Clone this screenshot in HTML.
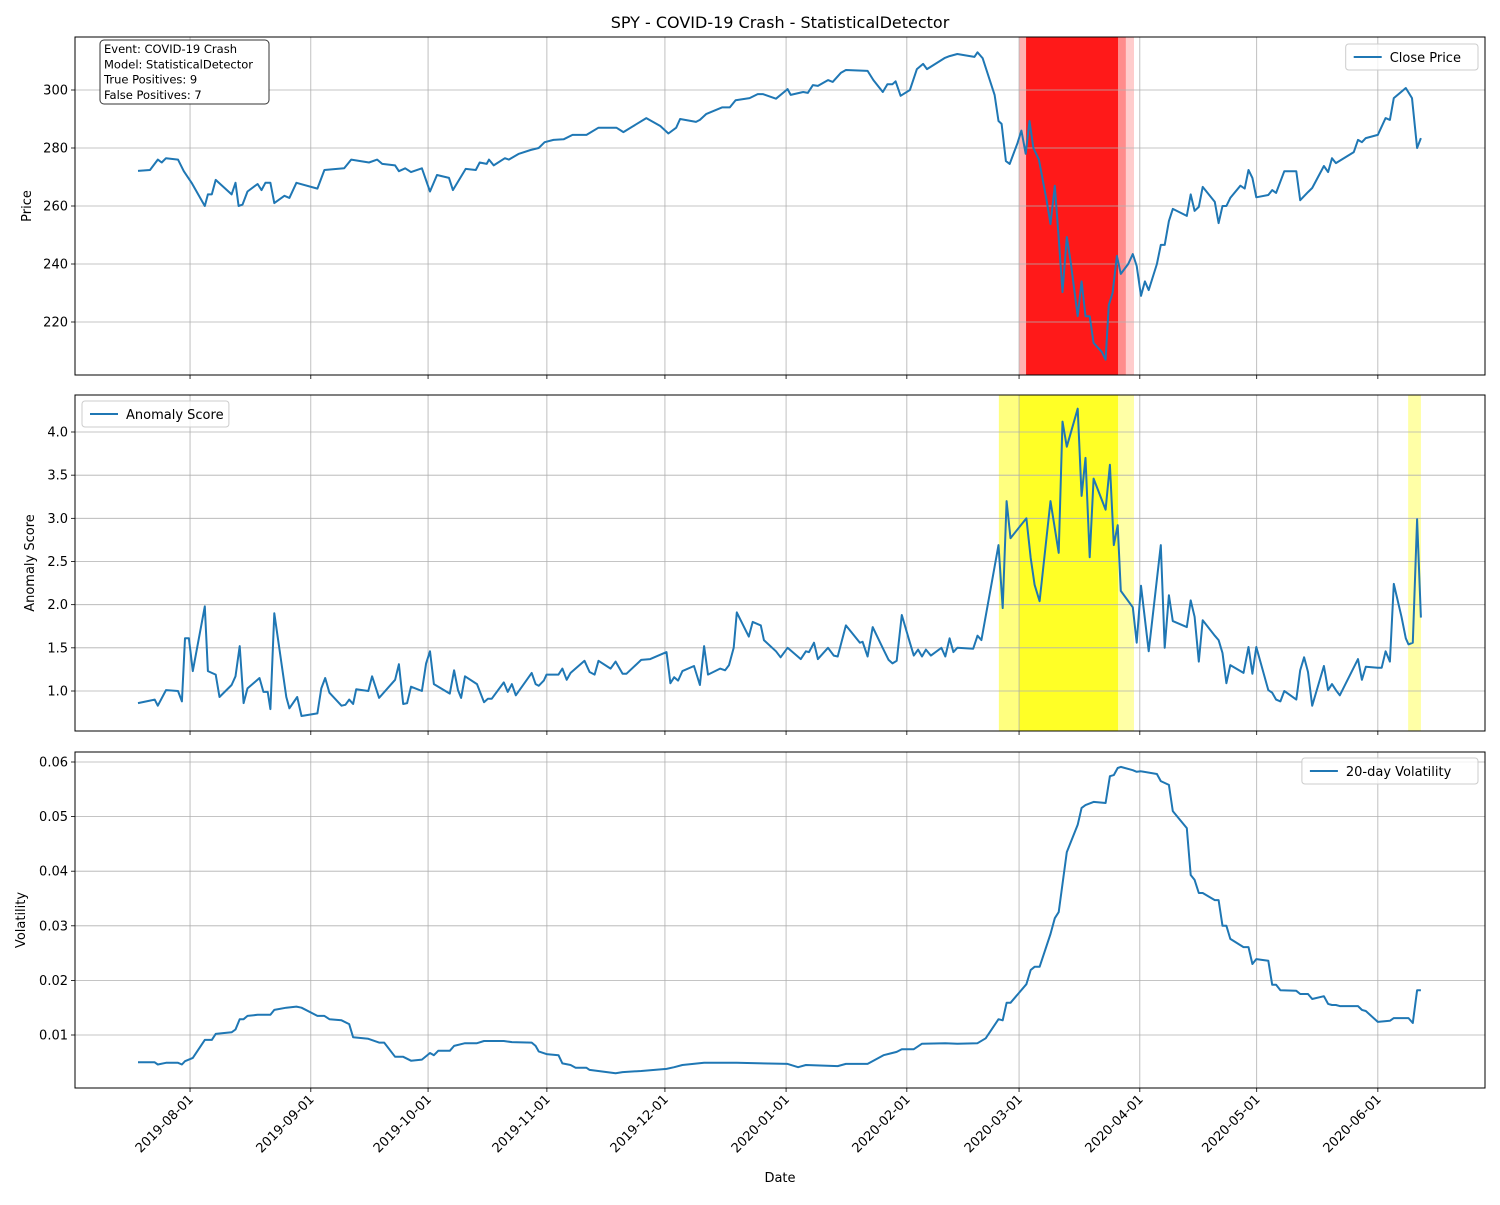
<!DOCTYPE html>
<html><head><meta charset="utf-8"><style>
body{margin:0;background:#fff;font-family:"Liberation Sans","DejaVu Sans",sans-serif}
svg text{font-family:"DejaVu Sans","Liberation Sans",sans-serif}
</style></head><body>
<svg id="chart" width="1500" height="1200" xmlns="http://www.w3.org/2000/svg">
<rect width="1500" height="1200" fill="#fff"/>
<text x="780" y="28" font-size="16" text-anchor="middle">SPY - COVID-19 Crash - StatisticalDetector</text>
</svg>
<script>
// days since 2019-07-18 (approx)
const priceDays=[0.4,3.5,5.5,6.5,7.6,10.7,12.2,14.2,17.6,18.4,19.4,20.4,24.5,25.5,26.3,27.3,28.6,31.2,32.2,33.2,34.5,35.5,38.1,39.4,41.2,46.6,48.4,53.5,55.3,59.9,62,63.3,66.6,67.6,69.2,70.7,73.5,75.6,77.4,80.5,81.5,84.8,87.4,88.4,90.2,90.8,92,94.9,95.9,98.5,101.5,103.6,105.1,107.4,110,112.3,115.9,119,123.6,125.4,131.3,134.9,137,139,140,144.1,145.1,146.7,150.8,152.8,154.3,157.9,160,161.3,164.7,167.7,168.5,171.7,172.9,174.2,175.5,178.1,179.3,181.4,182.7,188.3,189.8,192.2,193.4,194.7,195.5,196.8,199.2,201,202.6,203.6,208.1,209.4,211.4,215.8,216.6,217.9,221,222,222.8,223.9,224.9,226.9,227.9,229,230,231,232.4,234.4,235.4,236.5,237.5,238.5,239.6,240.6,242.4,243.4,244.4,245.5,246.5,248.6,249.6,250.4,251.4,252.5,253.5,255.4,256.6,257.6,258.7,259.7,260.7,262.8,263.8,264.8,265.9,266.9,270.5,271.5,272.5,273.6,274.6,277.7,278.7,279.7,280.7,281.7,284.3,285.4,286.4,287.4,288.4,291.5,292.5,293.5,295.6,298.7,299.7,301.7,302.8,305.8,306.9,307.9,308.9,313.5,314.6,315.6,316.6,319.7,321.7,322.8,323.8,326.9,328.5,329.8,330.8];
const priceValues=[272.1,272.4,276,275,276.5,276,272,268,260,264,264,269,264,268,260,260.5,265,267.6,265.5,268,268,261,263.5,262.8,268,266,272.4,273,276,275,276,274.5,274,272,273,271.7,273,265,270.7,269.7,265.5,272.8,272.4,275,274.5,276,274,276.5,276,278,279.3,280,282,282.8,283,284.5,284.5,287,287,285.5,290.3,287.6,285,287,290,289,289.7,291.7,294,294,296.5,297.2,298.6,298.6,297,300.3,298.3,299.3,299,301.7,301.4,303.4,302.8,305.9,306.9,306.6,303.4,299.3,302,302,303,298,300,307.2,309,307.2,311,311.7,312.4,311.4,313,311,298.3,289.3,288.3,275.5,274.5,281.7,286,278,289.3,280,276,262,253.8,267,249,230.3,249.3,240.7,222,234,222,222,212.8,209.7,207,225.9,230,242.8,236.6,240,243.4,239.3,229,234,231,240,246.6,246.6,254.8,259,256.6,264,258.3,259.7,266.6,261.4,254.1,260,260,262.8,267,266,272.4,269.7,263,263.8,265.5,264.5,272,272,262,264.8,266.2,273.8,271.7,276.5,274.8,278.6,282.8,282,283.4,284.5,290.3,289.7,297.2,300.7,297.2,280,283.4];
const scoreDays=[0.4,4.7,5.5,7.6,10.7,11.7,12.5,13.5,14.5,17.6,18.4,20.4,21.4,24.5,25.5,26.6,27.6,28.6,31.7,32.7,33.8,34.5,35.5,38.6,39.4,41.4,42.5,46.6,47.6,48.6,49.7,52.8,53.8,54.8,55.8,56.6,59.7,60.7,62.5,66.6,67.6,68.7,69.7,70.7,73.5,74.6,75.6,76.6,80.7,81.8,82.8,83.6,84.6,87.7,89.5,90.5,91.5,94.6,95.6,96.7,97.7,101.8,102.8,103.6,104.9,105.6,108.7,109.7,110.8,111.8,115.4,116.7,118,119,122.1,123.4,125.2,126.2,130,132.3,136.5,137.5,138.5,139.5,140.6,143.6,145.1,146.2,147.2,150.3,151.6,152.6,153.8,154.6,157.7,158.7,160.8,161.6,164.7,165.9,167.7,171.1,172.4,173.2,174.5,175.5,178.1,179.6,180.6,182.7,186.3,187,188.3,189.6,192.4,193.7,194.7,195.8,197.1,199.2,200.2,201.3,202.3,203.3,204.6,207.3,208.3,209.4,210.4,211.4,215.5,216.6,217.6,222,223.1,224.1,225.1,229.2,230.3,231.3,232.6,235.4,237.5,238.5,239.6,242.4,243.4,244.4,245.5,246.5,249.6,250.7,251.7,252.7,253.5,256.6,257.6,258.7,260.7,263.8,264.8,265.9,266.9,270.5,271.5,272.5,273.6,274.6,277.7,278.7,279.7,280.7,281.7,285.1,286.4,287.4,288.4,291.5,292.5,293.5,294.6,295.6,298.7,299.7,300.7,301.7,302.8,305.8,306.9,307.9,308.9,309.9,314.6,315.6,316.6,319.7,320.7,321.7,322.8,323.8,325.8,326.9,327.6,328.7,329.8,330.8];
const scoreValues=[0.86,0.9,0.83,1.01,1.0,0.88,1.61,1.61,1.23,1.98,1.23,1.19,0.93,1.07,1.17,1.52,0.86,1.03,1.15,0.99,0.99,0.79,1.9,0.93,0.8,0.93,0.71,0.74,1.03,1.15,0.98,0.83,0.84,0.9,0.85,1.02,1.0,1.17,0.92,1.13,1.31,0.85,0.86,1.05,1.0,1.32,1.46,1.08,0.97,1.24,1.01,0.92,1.17,1.08,0.87,0.91,0.91,1.1,0.99,1.08,0.95,1.21,1.08,1.06,1.12,1.19,1.19,1.26,1.13,1.21,1.35,1.22,1.19,1.35,1.26,1.34,1.2,1.2,1.36,1.37,1.45,1.09,1.16,1.12,1.23,1.29,1.07,1.52,1.19,1.26,1.24,1.3,1.5,1.91,1.63,1.8,1.76,1.59,1.46,1.39,1.5,1.37,1.46,1.45,1.56,1.37,1.5,1.41,1.4,1.76,1.56,1.57,1.4,1.74,1.48,1.36,1.32,1.35,1.88,1.56,1.41,1.48,1.4,1.48,1.41,1.5,1.4,1.61,1.45,1.5,1.49,1.64,1.59,2.69,1.96,3.2,2.77,3.0,2.54,2.23,2.04,3.2,2.6,4.12,3.83,4.27,3.26,3.7,2.55,3.46,3.1,3.62,2.69,2.92,2.16,1.97,1.56,2.22,1.46,2.69,1.5,2.11,1.81,1.74,2.05,1.86,1.34,1.82,1.64,1.59,1.44,1.09,1.3,1.21,1.51,1.2,1.51,1.01,0.98,0.9,0.88,1.0,0.9,1.24,1.39,1.22,0.83,1.29,1.01,1.08,1.01,0.95,1.37,1.13,1.28,1.27,1.27,1.46,1.34,2.24,1.86,1.61,1.54,1.56,2.99,1.85];
const volDays=[0.4,4.7,5.5,7.6,10.7,11.7,12.5,14.5,17.6,19.4,20.4,24.5,25.5,26.6,27.6,28.6,31.2,34.5,35.5,38.6,41.2,42.5,46.6,48.4,49.7,52.8,54.8,55.8,59.7,62.5,63.8,66.6,68.7,70.7,73.5,75.6,76.6,77.7,80.7,81.8,84.6,87.7,89.5,94.6,96.7,101.8,102.8,103.6,105.6,108.7,109.7,111.8,113.1,115.9,116.7,123.4,125.2,130,136.5,138.5,140.6,146.2,154.6,167.7,170.4,172.4,180.6,182.7,188.3,192.4,195.8,197.1,200.2,202.3,208.3,211.4,216.6,218.7,222,223.1,224.1,225.1,229.2,230.3,231.3,232.6,235.4,236.5,237.5,239.6,242.4,243.4,244.4,246.5,249.6,250.7,251.7,252.7,253.5,256.6,257.6,258.7,262.8,263.8,265.9,266.9,270.5,271.5,272.5,273.6,274.6,277.7,278.7,279.7,280.7,281.7,285.1,286.4,287.4,288.4,291.5,292.5,293.5,294.6,298.7,299.7,301.7,302.8,305.8,306.9,307.9,308.9,309.9,314.6,315.6,316.6,319.7,322.8,323.8,325.8,327.6,328.7,329.8,330.8];
const volValues=[0.005,0.005,0.0046,0.0049,0.0049,0.0046,0.0052,0.0058,0.0091,0.0091,0.0102,0.0105,0.011,0.0129,0.0129,0.0135,0.0137,0.0137,0.0146,0.015,0.0152,0.015,0.0135,0.0135,0.0129,0.0127,0.012,0.0096,0.0093,0.0086,0.0086,0.006,0.006,0.0053,0.0055,0.0067,0.0063,0.0071,0.0071,0.008,0.0085,0.0085,0.0089,0.0089,0.0087,0.0086,0.008,0.007,0.0065,0.0063,0.0048,0.0045,0.004,0.004,0.0036,0.003,0.0032,0.0034,0.0038,0.0041,0.0045,0.0049,0.0049,0.0047,0.0041,0.0045,0.0043,0.0047,0.0047,0.0063,0.0069,0.0074,0.0074,0.0084,0.0085,0.0084,0.0085,0.0094,0.0129,0.0127,0.0159,0.0159,0.0193,0.0219,0.0225,0.0225,0.0285,0.0314,0.0325,0.0435,0.0485,0.0516,0.0521,0.0527,0.0525,0.0574,0.0576,0.0589,0.0591,0.0585,0.0582,0.0583,0.0578,0.0565,0.0558,0.051,0.0479,0.0393,0.0384,0.036,0.036,0.0347,0.0347,0.03,0.03,0.0276,0.0261,0.0261,0.023,0.0239,0.0236,0.0192,0.0192,0.0182,0.0181,0.0175,0.0175,0.0166,0.0171,0.0157,0.0155,0.0155,0.0153,0.0153,0.0146,0.0144,0.0124,0.0126,0.0131,0.0131,0.0131,0.0122,0.0182,0.0182];
// detection spans: [startDay, endDay, opacity]
const redSpans=[[227.3,229.1,0.3],[229.1,252.8,0.9],[252.8,254.8,0.45],[254.8,256.9,0.2]];
const yellowSpans=[[222.1,227.3,0.5],[227.3,252.8,0.85],[252.8,256.9,0.35],[327.5,330.8,0.35]];
const xTickDays=[13.8,44.9,75.1,105.7,136.1,167.3,198.4,227.3,258.4,288.5,319.7];
const xTickLabels=["2019-08-01","2019-09-01","2019-10-01","2019-11-01","2019-12-01","2020-01-01","2020-02-01","2020-03-01","2020-04-01","2020-05-01","2020-06-01"];
const priceTicks=[220,240,260,280,300];
const scoreTicks=[1.0,1.5,2.0,2.5,3.0,3.5,4.0];
const volTicks=[0.01,0.02,0.03,0.04,0.05,0.06];

const NS="http://www.w3.org/2000/svg";
const svg=document.getElementById('chart');
const L=75,R=1485;
const x=d=>136.45+d*3.883;
function mk(tag,attrs,parent){const e=document.createElementNS(NS,tag);for(const k in attrs)e.setAttribute(k,attrs[k]);(parent||svg).appendChild(e);return e;}
const panels=[
 {name:'price',top:37,bot:375,v0:300,y0:90,v1:220,y1:322,ticks:priceTicks,fmt:v=>String(v),days:priceDays,vals:priceValues,spans:redSpans,spanColor:'#ff0000',ylabel:'Price',ylx:31,legend:'Close Price',legRight:true,legTop:44},
 {name:'score',top:395,bot:731,v0:4,y0:432,v1:1,y1:691,ticks:scoreTicks,fmt:v=>v.toFixed(1),days:scoreDays,vals:scoreValues,spans:yellowSpans,spanColor:'#ffff00',ylabel:'Anomaly Score',ylx:34,legend:'Anomaly Score',legRight:false,legTop:401},
 {name:'volatility',top:752,bot:1088,v0:0.06,y0:762,v1:0.01,y1:1035,ticks:volTicks,fmt:v=>v.toFixed(2),days:volDays,vals:volValues,spans:[],spanColor:'#fff',ylabel:'Volatility',ylx:25,legend:'20-day Volatility',legRight:true,legTop:758}
];
panels.forEach(p=>{
 const y=v=>p.y0+(v-p.v0)*(p.y1-p.y0)/(p.v1-p.v0);
 const g=mk('g',{});
 
 
 p.spans.forEach(s=>{
  const r=mk('rect',{x:x(s[0]),y:p.top,width:x(s[1])-x(s[0]),height:p.bot-p.top,fill:p.spanColor,'fill-opacity':s[2]},g);
  
  
 });
 xTickDays.forEach(d=>{
  const l=mk('line',{x1:x(d),x2:x(d),y1:p.top,y2:p.bot,stroke:'#b0b0b0','stroke-width':0.8},g);
  
  
  mk('line',{x1:x(d),x2:x(d),y1:p.bot,y2:p.bot+4,stroke:'#000','stroke-width':0.8},g);
 });
 p.ticks.forEach(v=>{
  const l=mk('line',{x1:L,x2:R,y1:y(v),y2:y(v),stroke:'#b0b0b0','stroke-width':0.8},g);
  
  
  mk('line',{x1:L-4,x2:L,y1:y(v),y2:y(v),stroke:'#000','stroke-width':0.8},g);
  const t=mk('text',{x:L-7,y:y(v)+4.5,'font-size':13,'text-anchor':'end'},g);
  t.textContent=p.fmt(v);
  
  
 });
 const pts=p.days.map((d,i)=>x(d).toFixed(1)+','+y(p.vals[i]).toFixed(1)).join(' ');
 const pl=mk('polyline',{points:pts,fill:'none',stroke:'#1f77b4','stroke-width':2,'stroke-linejoin':'round'},g);
 
 
 mk('rect',{x:L,y:p.top,width:R-L,height:p.bot-p.top,fill:'none',stroke:'#000','stroke-width':1},g);
 const yl=mk('text',{x:p.ylx,y:(p.top+p.bot)/2,'font-size':13,'text-anchor':'middle',transform:`rotate(-90 ${p.ylx} ${(p.top+p.bot)/2})`},g);
 yl.textContent=p.ylabel;
 
 
 const w=p.legend.length*7.3+52;
 const lx=p.legRight?R-7-w:L+7;
 const lg=mk('g',{},g);
 
 
 mk('rect',{x:lx,y:p.legTop,width:w,height:26,rx:3,fill:'#fff','fill-opacity':0.8,stroke:'#ccc'},lg);
 mk('line',{x1:lx+8,x2:lx+36,y1:p.legTop+13,y2:p.legTop+13,stroke:'#1f77b4','stroke-width':2},lg);
 const lt=mk('text',{x:lx+44,y:p.legTop+18,'font-size':13},lg);
 lt.textContent=p.legend;
});
xTickDays.forEach((d,i)=>{
 const t=mk('text',{x:x(d)+4,y:1100,'font-size':13,'text-anchor':'end',transform:`rotate(-45 ${x(d)+4} 1100)`});
 t.textContent=xTickLabels[i];
 
 
});
const xt=mk('text',{x:780,y:1182,'font-size':13,'text-anchor':'middle'});
xt.textContent='Date';


const ib=mk('g',{});


mk('rect',{x:100,y:40,width:169,height:64,rx:4,fill:'#fff',stroke:'#333','stroke-width':1},ib);
['Event: COVID-19 Crash','Model: StatisticalDetector','True Positives: 9','False Positives: 7'].forEach((s,i)=>{
 const t=mk('text',{x:104,y:53+i*15.3,'font-size':11.5},ib);
 t.textContent=s;
});
</script>
</body></html>
